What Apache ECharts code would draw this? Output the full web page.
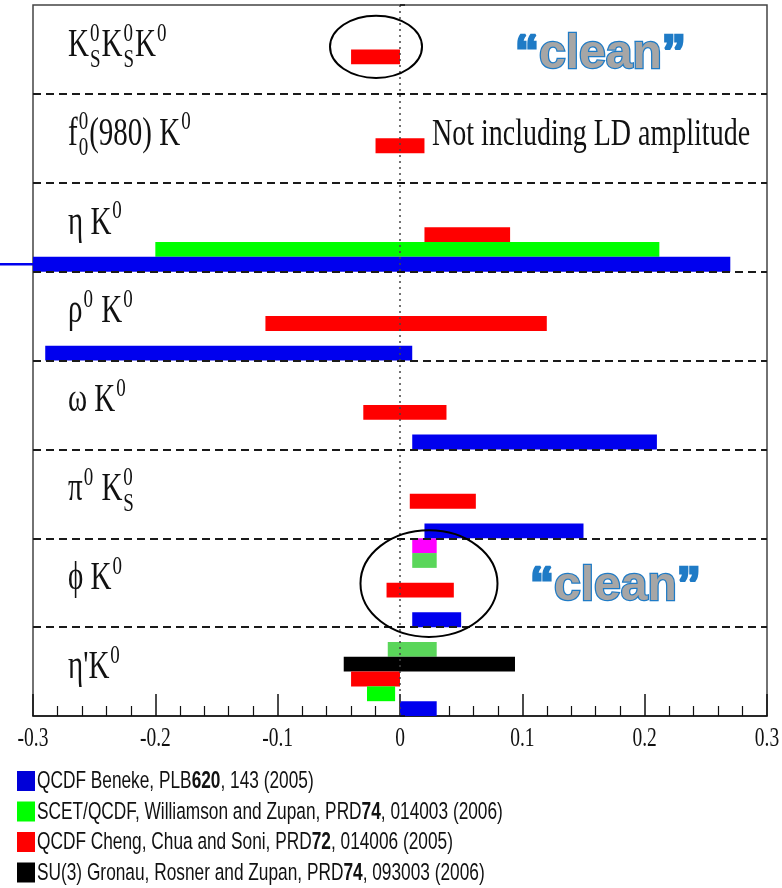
<!DOCTYPE html>
<html>
<head>
<meta charset="utf-8">
<script src="https://cdn.jsdelivr.net/npm/echarts@6.0.0/dist/echarts.min.js"></script>
<style>
  html, body { margin: 0; padding: 0; background: #fff; }
  #chart { width: 782px; height: 888px; }
</style>
</head>
<body>
<div id="chart"></div>
<script>
// ---- data -------------------------------------------------------------
// Decay modes, top to bottom ("_" = subscript, "^" = superscript)
const decayModes = ['K_S^0K_S^0K^0', 'f_0^0(980) K^0', 'η K^0', 'ρ^0 K^0', 'ω K^0', 'π^0 K_S^0', 'ϕ K^0', "η'K^0"];

// Predicted ranges of ΔS per calculation: [mode index, low, high]
const benekeQCDF   = [[2, -0.33, 0.27], [3, -0.29, 0.01], [4, 0.01, 0.21], [5, 0.02, 0.15], [6, 0.01, 0.05], [7, 0.00, 0.03]];
const scetQCDF     = [[2, -0.20, 0.212], [7, -0.027, -0.004]];
const scetQCDF2    = [[6, 0.01, 0.03], [7, -0.01, 0.03]];
const chengQCDF    = [[0, -0.04, 0.00], [1, -0.02, 0.02], [2, 0.02, 0.09], [3, -0.11, 0.12], [4, -0.03, 0.038], [5, 0.008, 0.062], [6, -0.011, 0.044], [7, -0.04, 0.00]];
const su3Gronau    = [[7, -0.046, 0.094]];
const otherPhiK    = [[6, 0.01, 0.03]];

// x axis ticks
const xTicks = [-0.3, -0.2, -0.1, 0, 0.1, 0.2, 0.3];
const xTickLabels = ['-0.3', '-0.2', '-0.1', '0', '0.1', '0.2', '0.3'];

// legend texts ({b|..} = bold)
const legendNames = [
  'QCDF Beneke, PLB{b|620}, 143 (2005)',
  'SCET/QCDF, Williamson and Zupan, PRD{b|74}, 014003 (2006)',
  'QCDF Cheng, Chua and Soni, PRD{b|72}, 014006 (2005)',
  'SU(3) Gronau, Rosner and Zupan, PRD{b|74}, 093003 (2006)'
];
const legendColors = ['#0000d8', '#00ff00', '#ff0000', '#000000'];

// ---- styling ----------------------------------------------------------
const SERIF = "'Liberation Serif','Times New Roman',serif";
const SANS = "'Liberation Sans',Arial,sans-serif";
const STRETCH = 1.36;         // vertical stretch of all lettering
const LANES = 6;              // bar slots per decay-mode row
const MID = 0.305;            // canvas "middle" baseline offset above alphabetic baseline (em)

const barSets = [
  { name: 'otherPhiK', data: otherPhiK, color: '#ff00ff', lane: 0 },
  { name: 'scetQCDF2', data: scetQCDF2, color: '#5ad65a', lane: 1 },
  { name: 'su3Gronau', data: su3Gronau, color: '#000000', lane: 2 },
  { name: 'chengQCDF', data: chengQCDF, color: '#ff0000', lane: 3 },
  { name: 'scetQCDF',  data: scetQCDF,  color: '#00ff00', lane: 4 },
  { name: 'benekeQCDF', data: benekeQCDF, color: '#0000ee', lane: 5 }
];

// rings marking the "clean" modes: [x centre, row position, x radius, row radius]
const rings = [[-0.0196, 0.47, 0.0376, 0.35], [0.0237, 6.51, 0.056, 0.60]];

// ---- helpers ----------------------------------------------------------
const measureCtx = document.createElement('canvas').getContext('2d');
function textWidth(t, font) { measureCtx.font = font; return measureCtx.measureText(t).width; }

function parseFormula(s) {
  const segs = []; let buf = '';
  for (let i = 0; i < s.length; i++) {
    const c = s[i];
    if (c === '_' || c === '^') {
      if (buf) { segs.push({ text: buf }); buf = ''; }
      let last = segs[segs.length - 1];
      if (!last || last.text !== undefined) { last = { sub: '', sup: '' }; segs.push(last); }
      if (c === '_') last.sub = s[++i]; else last.sup = s[++i];
    } else buf += c;
  }
  if (buf) segs.push({ text: buf });
  return segs;
}

// Children laid out around a baseline at local y = 0
function layoutFormula(str, fs) {
  const ss = Math.round(fs * 0.65);
  const baseFont = fs + 'px ' + SERIF, scriptFont = ss + 'px ' + SERIF;
  const out = []; let x = 0;
  const txt = (t, x, y, font) => ({ type: 'text', style: { text: t, x: x, y: y, font: font, fill: '#111', align: 'left', verticalAlign: 'middle' } });
  parseFormula(str).forEach(seg => {
    if (seg.text !== undefined) {
      out.push(txt(seg.text, x, -MID * fs, baseFont));
      x += textWidth(seg.text, baseFont);
    } else {
      let w = 0;
      if (seg.sup) { out.push(txt(seg.sup, x + 1, -0.40 * fs - MID * ss, scriptFont)); w = Math.max(w, textWidth(seg.sup, scriptFont)); }
      if (seg.sub) { out.push(txt(seg.sub, x + 1, 0.26 * fs - MID * ss, scriptFont)); w = Math.max(w, textWidth(seg.sub, scriptFont)); }
      x += w + 2;
    }
  });
  return out;
}

function barRenderer(lane, color) {
  return function (params, api) {
    const lo = api.value(0), hi = api.value(1), row = api.value(2);
    const p0 = api.coord([lo, row + lane / LANES]);
    const p1 = api.coord([hi, row + (lane + 1) / LANES]);
    const cs = params.coordSys;
    const rect = { x: p0[0], y: p0[1], width: p1[0] - p0[0], height: p1[1] - p0[1] };
    const clipped = echarts.graphic.clipRectByRect(rect, { x: cs.x, y: cs.y, width: cs.width, height: cs.height });
    const children = [];
    if (clipped) children.push({ type: 'rect', shape: clipped, style: { fill: color } });
    if (p0[0] < cs.x) {
      // range runs past the axis: continue it as a thin line
      const yc = (p0[1] + p1[1]) / 2;
      children.push({ type: 'line', shape: { x1: p0[0], y1: yc, x2: cs.x, y2: yc }, style: { stroke: color, lineWidth: 2.5 } });
    }
    return { type: 'group', children: children };
  };
}

// ---- series -----------------------------------------------------------
const series = barSets.map((b, i) => ({
  type: 'custom',
  name: b.name,
  clip: false,
  z: 2,
  encode: { x: [0, 1], y: 2 },
  data: b.data.map(d => [d[1], d[2], d[0]]),
  renderItem: barRenderer(b.lane, b.color),
  markLine: i === 0 ? {
    silent: true, symbol: ['none', 'none'], label: { show: false },
    lineStyle: { color: '#444', type: [2, 4], width: 1.5 },
    data: [{ xAxis: 0 }]
  } : undefined
}));

// decay-mode labels
series.push({
  type: 'custom', name: 'modes', clip: false, silent: true, z: 4,
  encode: { x: 0, y: 1 },
  data: decayModes.map((m, i) => [-0.3, i]),
  renderItem: function (params, api) {
    const p = api.coord([api.value(0), api.value(1)]);
    const h = api.size([0, 1])[1];
    return {
      type: 'group', x: p[0] + 35, y: p[1] + 0.59 * h, scaleY: STRETCH,
      children: layoutFormula(decayModes[params.dataIndex], 29)
    };
  }
});

// x tick labels
series.push({
  type: 'custom', name: 'ticks', clip: false, silent: true, z: 4,
  encode: { x: 0, y: 1 },
  data: xTicks.map(v => [v, 8]),
  renderItem: function (params, api) {
    const p = api.coord([api.value(0), api.value(1)]);
    return {
      type: 'group', x: p[0], y: p[1] + 31, scaleY: STRETCH,
      children: [{ type: 'text', style: { text: xTickLabels[params.dataIndex], x: 0, y: -MID * 19.5, font: '19.5px ' + SERIF, fill: '#111', align: 'center', verticalAlign: 'middle' } }]
    };
  }
});

// rings round the clean modes
series.push({
  type: 'custom', name: 'rings', clip: false, silent: true, z: 5,
  encode: { x: 0, y: 1 },
  data: rings,
  renderItem: function (params, api) {
    const c = api.coord([api.value(0), api.value(1)]);
    const r = api.size([api.value(2), api.value(3)]);
    return { type: 'ellipse', shape: { cx: c[0], cy: c[1], rx: r[0], ry: r[1] }, style: { fill: null, stroke: '#000', lineWidth: 2 } };
  }
});

// ---- annotations & legend ----------------------------------------------
const cleanStyle = (x, y) => ({
  type: 'text', x: x, y: y, z: 10,
  style: {
    text: '{q|“}clean{q|”}', font: 'bold 48px ' + SANS, fill: '#a6a6a6', stroke: '#1f7bc6', lineWidth: 2.5,
    verticalAlign: 'middle', align: 'left',
    shadowBlur: 4, shadowColor: 'rgba(0,0,0,0.35)', shadowOffsetX: 2, shadowOffsetY: 2,
    rich: { q: { font: 'bold 48px ' + SANS, fill: '#1f7bc6', stroke: '#1f7bc6', lineWidth: 2.5 } }
  }
});

const graphics = [
  cleanStyle(515, 55),
  cleanStyle(530, 587),
  {
    type: 'group', x: 432, y: 146.5, scaleY: STRETCH, z: 10,
    children: [{ type: 'text', style: { text: 'Not including LD amplitude', x: 0, y: -MID * 28, font: '28px ' + SERIF, fill: '#111', verticalAlign: 'middle', align: 'left' } }]
  }
];
legendNames.forEach((name, i) => {
  const cy = 781 + i * 30.5;
  graphics.push({ type: 'rect', shape: { x: 17, y: cy - 10, width: 18, height: 20 }, style: { fill: legendColors[i] } });
  graphics.push({
    type: 'group', x: 37, y: cy + 8.3, scaleY: STRETCH,
    children: [{ type: 'text', style: {
      text: name, x: 0, y: -0.31 * 17.3, font: '17.3px ' + SANS, fill: '#111', verticalAlign: 'middle', align: 'left',
      rich: { b: { font: 'bold 17.3px ' + SANS, fill: '#111' } }
    } }]
  });
});

// ---- chart --------------------------------------------------------------
const chart = echarts.init(document.getElementById('chart'), null, { renderer: 'canvas' });
chart.setOption({
  animation: false,
  backgroundColor: '#fff',
  grid: { left: 33, right: 15, top: 5, bottom: 172, show: true, borderColor: '#444', borderWidth: 1.5, backgroundColor: 'transparent', outerBoundsMode: 'none' },
  xAxis: {
    type: 'value', min: -0.3, max: 0.3, interval: 0.1,
    axisLine: { show: true, onZero: false, lineStyle: { color: '#111', width: 1.5 } },
    axisTick: { show: true, inside: true, length: 22, lineStyle: { color: '#111', width: 1.5 } },
    minorTick: { show: true, splitNumber: 5, length: 10, lineStyle: { color: '#111', width: 1.2 } },
    axisLabel: { show: false },
    splitLine: { show: false }
  },
  yAxis: {
    type: 'value', min: 0, max: 8, interval: 1, inverse: true, z: 5,
    axisLine: { show: false },
    axisTick: { show: true, inside: true, length: 5, lineStyle: { color: '#111', width: 1.5 } },
    axisLabel: { show: false },
    splitLine: { show: true, showMinLine: false, showMaxLine: false, lineStyle: { color: '#1a1a1a', type: [8, 5], width: 2 } }
  },
  series: series,
  graphic: graphics
});
</script>
</body>
</html>
